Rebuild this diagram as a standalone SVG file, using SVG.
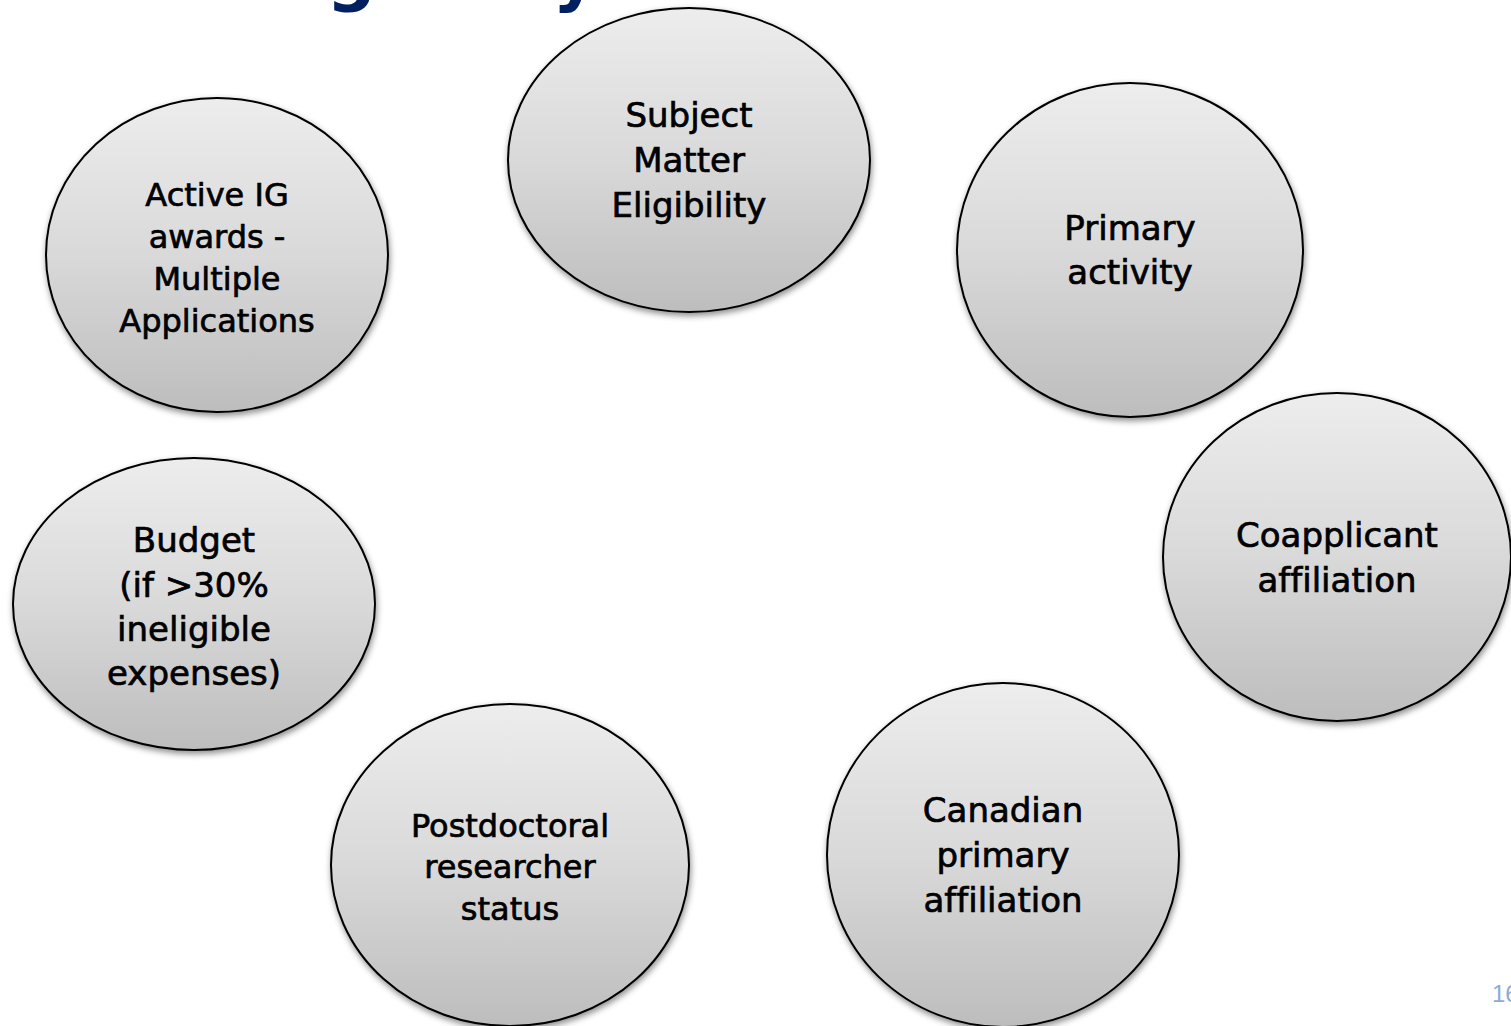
<svg xmlns="http://www.w3.org/2000/svg" width="1511" height="1026" viewBox="0 0 1511 1026">
<defs>
<linearGradient id="g" x1="0" y1="0" x2="0" y2="1">
<stop offset="0" stop-color="#ededed"/>
<stop offset="0.5" stop-color="#d9d9d9"/>
<stop offset="1" stop-color="#bdbdbd"/>
</linearGradient>
<filter id="sh" x="-10%" y="-10%" width="125%" height="125%">
<feDropShadow dx="1" dy="3" stdDeviation="3" flood-color="#000" flood-opacity="0.45"/>
</filter>
</defs>
<style>
.n ellipse{fill:url(#g);stroke:#000;stroke-width:2;filter:url(#sh)}
.n text{font-family:"DejaVu Sans",Verdana,sans-serif;fill:#000;text-anchor:middle;stroke:#000;stroke-width:0.7;font-variant-ligatures:none;font-feature-settings:"liga" 0}
.s text{font-size:32px}
.b text{font-size:34px}
.title{font-family:"DejaVu Sans",sans-serif;font-weight:bold;font-size:69px;fill:#002060}
.pg{font-family:"Liberation Sans",Arial,sans-serif;font-size:24px;fill:#8eaadb}
</style>
<rect width="1511" height="1026" fill="#fff"/>
<text class="title" x="232" y="-2">Eligibility</text>
<g id="connectors"/>
<g id="n-active" class="n s">
<ellipse cx="217" cy="255" rx="171" ry="157"/>
<text x="217" y="206">Active IG</text>
<text x="217" y="248">awards -</text>
<text x="217" y="290">Multiple</text>
<text x="217" y="332">Applications</text>
</g>
<g id="n-subject" class="n b">
<ellipse cx="689" cy="160" rx="181" ry="152"/>
<text x="689" y="127">Subject</text>
<text x="689" y="172">Matter</text>
<text x="689" y="217">Eligibility</text>
</g>
<g id="n-primary" class="n b">
<ellipse cx="1130" cy="250" rx="173" ry="167"/>
<text x="1130" y="240">Primary</text>
<text x="1130" y="284">activity</text>
</g>
<g id="n-coapp" class="n b">
<ellipse cx="1337" cy="557" rx="174" ry="164"/>
<text x="1337" y="547">Coapplicant</text>
<text x="1337" y="592">affiliation</text>
</g>
<g id="n-canadian" class="n b">
<ellipse cx="1003" cy="855" rx="176" ry="172"/>
<text x="1003" y="822">Canadian</text>
<text x="1003" y="867">primary</text>
<text x="1003" y="912">affiliation</text>
</g>
<g id="n-postdoc" class="n s">
<ellipse cx="510" cy="865" rx="179" ry="161"/>
<text x="510" y="837">Postdoctoral</text>
<text x="510" y="878">researcher</text>
<text x="510" y="920">status</text>
</g>
<g id="n-budget" class="n b">
<ellipse cx="194" cy="604" rx="181" ry="146"/>
<text x="194" y="552">Budget</text>
<text x="194" y="597">(if &gt;30%</text>
<text x="194" y="641">ineligible</text>
<text x="194" y="685">expenses)</text>
</g>
<text class="pg" x="1492" y="1002">16</text>
</svg>
